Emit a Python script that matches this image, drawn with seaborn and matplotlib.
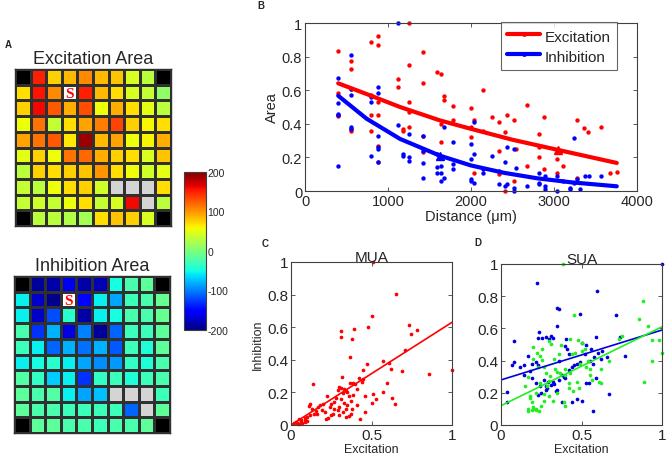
import numpy as np
import matplotlib
matplotlib.use("Agg")
import matplotlib.pyplot as plt
from matplotlib.colors import ListedColormap, Normalize
from matplotlib.cm import ScalarMappable
from matplotlib.lines import Line2D
from matplotlib.ticker import FuncFormatter
import seaborn as sns

nan = np.nan

# ---- panel A: response maps (10x10 electrode grid) ----
exc_map = [
    [nan, 150, 75, 85, 105, 85, 80, 45, 30, nan],
    [70, 155, 105, nan, 150, 85, 70, 45, 35, 10],
    [75, 160, 125, 90, 130, 55, 90, 70, 50, 30],
    [55, 115, 35, 70, 95, 110, 135, 75, 60, 70],
    [95, 115, 125, 65, 190, 85, 95, 55, 60, 90],
    [50, 75, 55, 115, 120, 90, 75, 70, 45, 80],
    [30, 75, 70, 75, 80, 100, 70, 55, 40, 50],
    [35, 30, 55, 70, 75, 40, nan, nan, nan, 70],
    [35, 40, 35, 55, 70, 35, 45, 160, nan, 30],
    [nan, 30, 30, 25, 20, 70, 80, 75, 45, nan],
]
inh_map = [
    [nan, -190, -185, -160, -185, -180, -50, -25, -15, nan],
    [-55, -175, -195, nan, -150, -55, -85, -30, -25, -10],
    [-55, -175, -120, -40, -185, -55, -50, -25, -25, -10],
    [-25, -130, -80, -165, -100, -190, -110, -30, -30, -15],
    [-30, -55, -110, -80, -105, -80, -115, -30, -45, -15],
    [-55, -50, -40, -55, -85, -95, -90, -35, -45, -25],
    [-20, -35, -70, -55, -130, -35, -30, -45, -30, -25],
    [-15, -25, -20, -55, -85, -75, nan, nan, nan, -30],
    [-15, -25, -25, -30, -30, -30, -30, -110, nan, -15],
    [nan, -15, -15, -25, -25, -30, -25, -25, -15, nan],
]
corner_cells = [(0, 0), (0, 9), (9, 0), (9, 9)]
dead_cells = [(7, 6), (7, 7), (7, 8), (8, 8)]
stim_cell = (1, 3)
cbar_ticks = [-200, -100, 0, 100, 200]

# ---- panel B: area vs distance ----
exc_dist = [394, 394, 394, 394, 555, 555, 555, 555, 555, 796, 796, 796, 796,
            884, 884, 884, 884, 884, 884, 1118, 1118, 1186, 1186,
            1259, 1259, 1259, 1259, 1259, 1427, 1427, 1427, 1427, 1596,
            1640, 1640, 1640, 1678, 1678, 1781, 1781, 1998, 1998, 1998,
            2042, 2042, 2143, 2143, 2251, 2332, 2332, 2332, 2412, 2412, 2432,
            2520, 2520, 2545, 2673, 2673, 2814, 2814, 2814, 2874, 2874,
            3035, 3035, 3108, 3276, 3276, 3365, 3409, 3566, 3678, 3759]
exc_area = [0.835, 0.585, 0.455, 0.445, 0.776, 0.727, 0.61, 0.37, 0.36, 0.885, 0.57, 0.45, 0.36,
            0.925, 0.87, 0.53, 0.45, 0.27, 0.17, 0.667, 0.62, 0.37, 0.36,
            1.0, 0.75, 0.53, 0.47, 0.38, 0.826, 0.64, 0.33, 0.23, 0.707,
            0.697, 0.40, 0.29, 0.565, 0.54, 0.505, 0.42, 0.493, 0.38, 0.32,
            0.42, 0.11, 0.60, 0.36, 0.44, 0.41, 0.24, 0.10, 0.35, 0.0, 0.45,
            0.425, 0.06, 0.25, 0.51, 0.15, 0.34, 0.26, 0.20, 0.44, 0.13,
            0.19, 0.11, 0.15, 0.425, 0.08, 0.375, 0.35, 0.38, 0.105, 0.115]
inh_dist = [394, 394, 394, 394, 394, 555, 555, 555, 555, 555, 796, 796, 796,
            884, 884, 884, 884, 884, 884, 1118, 1118, 1186, 1186, 1259, 1259, 1259,
            1427, 1427, 1427, 1427, 1596, 1596, 1596, 1640, 1640, 1640, 1678, 1678,
            1781, 1781, 1781, 1998, 1998, 1998, 1998, 2042, 2042, 2042, 2143, 2143,
            2251, 2332, 2332, 2412, 2412, 2432, 2432, 2520, 2520, 2520, 2545, 2673,
            2814, 2814, 2814, 2894, 2894, 2894, 3035, 3035, 3108, 3196, 3196,
            3236, 3236, 3276, 3308, 3377, 3417, 3566]
inh_area = [0.675, 0.525, 0.46, 0.45, 0.15, 0.81, 0.61, 0.57, 0.38, 0.37, 0.56, 0.53, 0.21,
            0.62, 0.585, 0.33, 0.26, 0.25, 0.17, 1.0, 0.39, 0.22, 0.21, 0.34, 0.20, 0.18,
            0.33, 0.24, 0.165, 0.075, 0.22, 0.14, 0.11, 0.15, 0.11, 0.06, 0.38, 0.08,
            0.29, 0.16, 0.13, 0.28, 0.19, 0.07, 0.06, 0.41, 0.22, 0.05, 0.13, 0.11,
            0.21, 0.12, 0.04, 0.17, 0.03, 0.26, 0.04, 0.25, 0.02, 0.0, 0.135, 0.03,
            0.11, 0.05, 0.04, 0.09, 0.03, 0.01, 0.09, 0.0, 0.06, 0.02, 0.01,
            0.315, 0.05, 0.07, 0.01, 0.09, 0.09, 0.09]
# fitted decay curves
exc_fit_dist = [400, 743, 1145, 1627, 2000, 2500, 3053, 3756]
exc_fit_area = [0.641, 0.577, 0.50, 0.42, 0.37, 0.305, 0.244, 0.167]
inh_fit_dist = [400, 743, 1145, 1627, 2000, 2400, 2792, 3200, 3756]
inh_fit_area = [0.567, 0.43, 0.31, 0.21, 0.152, 0.108, 0.076, 0.052, 0.028]
exc_half = (3053, 0.244)
inh_half = (1627, 0.21)

# ---- panel C: MUA ----
mua_exc = [0.51, 0.65, 0.50, 0.48, 0.31, 0.39, 0.31, 0.38, 0.735, 0.745,
           0.785, 0.71, 0.365, 0.57, 0.475, 0.61, 0.62, 0.69, 1.0, 0.855,
           0.445, 0.42, 0.315, 0.595, 0.365, 0.385, 0.135, 0.30, 0.31, 0.33,
           0.34, 0.29, 0.32, 0.35, 0.40, 0.41, 0.385, 0.36, 0.445, 0.44,
           0.51, 0.57, 0.625, 0.645, 0.505, 0.46, 0.46, 0.375, 0.43, 0.35,
           0.34, 0.30, 0.29, 0.27, 0.26, 0.23, 0.22, 0.25, 0.225, 0.17,
           0.18, 0.20, 0.19, 0.21, 0.16, 0.12, 0.11, 0.13, 0.12, 0.10,
           0.09, 0.085, 0.09, 0.07, 0.06, 0.05, 0.04, 0.03, 0.02, 0.065,
           0.05, 0.10, 0.31, 0.33, 0.28, 0.27, 0.32, 0.34, 0.36, 0.24,
           0.155, 0.14, 0.37, 0.38, 0.41, 0.30, 0.25, 0.53]
mua_inh = [1.0, 0.805, 0.67, 0.60, 0.575, 0.59, 0.54, 0.53, 0.615, 0.56,
           0.58, 0.46, 0.415, 0.395, 0.375, 0.38, 0.345, 0.33, 0.335, 0.313,
           0.335, 0.29, 0.295, 0.255, 0.255, 0.26, 0.25, 0.235, 0.225, 0.22,
           0.21, 0.215, 0.195, 0.205, 0.25, 0.22, 0.185, 0.175, 0.28, 0.265,
           0.19, 0.20, 0.165, 0.13, 0.135, 0.18, 0.08, 0.07, 0.035, 0.12,
           0.10, 0.11, 0.09, 0.10, 0.07, 0.04, 0.035, 0.13, 0.175, 0.11,
           0.12, 0.13, 0.09, 0.08, 0.07, 0.13, 0.115, 0.10, 0.06, 0.05,
           0.045, 0.03, 0.02, 0.01, 0.02, 0.005, 0.01, 0.02, 0.01, 0.03,
           0.035, 0.025, 0.16, 0.135, 0.165, 0.14, 0.08, 0.05, 0.055, 0.11,
           0.085, 0.07, 0.15, 0.10, 0.12, 0.06, 0.06, 0.16]
line_x = [0.0, 1.0]
mua_line = [0.0, 0.63]

# ---- panel D: SUA (two cell groups) ----
sua_exc_b = [1.0, 0.225, 0.595, 0.345, 0.36, 0.345, 0.49, 0.715, 0.235, 0.228,
             0.255, 0.28, 0.30, 0.31, 0.405, 0.59, 0.74, 0.77, 0.08, 0.08,
             0.07, 0.12, 0.145, 0.17, 0.19, 0.23, 0.215, 0.18, 0.14, 0.19,
             0.215, 0.24, 0.25, 0.23, 0.28, 0.285, 0.28, 0.325, 0.33, 0.34,
             0.35, 0.38, 0.39, 0.40, 0.42, 0.44, 0.455, 0.47, 0.49, 0.40,
             0.41, 0.42, 0.52, 0.55, 0.57, 0.58, 0.56, 0.60, 0.62, 0.53,
             0.545, 0.59, 0.47, 0.50, 0.38, 0.44, 0.57, 0.67, 0.66, 0.63,
             0.035, 0.035, 0.27, 0.29, 0.31, 0.36, 0.36, 0.50, 0.53, 0.32]
sua_inh_b = [1.0, 0.885, 0.83, 0.727, 0.72, 0.613, 0.69, 0.683, 0.576, 0.54,
             0.54, 0.545, 0.535, 0.55, 0.535, 0.545, 0.545, 0.43, 0.52, 0.39,
             0.375, 0.36, 0.37, 0.43, 0.38, 0.375, 0.39, 0.335, 0.31, 0.29,
             0.26, 0.24, 0.20, 0.185, 0.24, 0.23, 0.215, 0.27, 0.255, 0.21,
             0.22, 0.31, 0.30, 0.29, 0.34, 0.36, 0.37, 0.38, 0.39, 0.49,
             0.47, 0.44, 0.44, 0.40, 0.38, 0.42, 0.475, 0.45, 0.41, 0.26,
             0.26, 0.29, 0.16, 0.15, 0.145, 0.14, 0.085, 0.19, 0.42, 0.46,
             0.14, 0.205, 0.28, 0.265, 0.25, 0.28, 0.40, 0.51, 0.50, 0.54]
sua_exc_g = [0.385, 0.885, 0.86, 0.915, 0.935, 0.98, 1.0, 0.935, 0.89, 0.73,
             0.455, 0.48, 0.5, 0.43, 0.37, 0.30, 0.31, 0.255, 0.20, 0.225,
             0.24, 0.255, 0.20, 0.17, 0.23, 0.15, 0.18, 0.18, 0.19, 0.20,
             0.165, 0.17, 0.19, 0.20, 0.215, 0.22, 0.235, 0.285, 0.30, 0.305,
             0.335, 0.345, 0.365, 0.395, 0.42, 0.425, 0.485, 0.47, 0.55, 0.565,
             0.61, 0.62, 0.53, 0.54, 0.49, 0.55, 0.30, 0.35, 0.265, 0.22,
             0.39, 0.40, 0.45, 0.32, 0.27, 0.25, 0.28, 0.33, 0.36, 0.44,
             0.46, 0.50, 0.52, 0.27, 0.40, 0.43, 0.62, 0.67, 0.75, 0.24]
sua_inh_g = [1.0, 0.77, 0.66, 0.615, 0.525, 0.525, 0.445, 0.40, 0.265, 0.535,
             0.685, 0.53, 0.51, 0.535, 0.50, 0.52, 0.505, 0.47, 0.485, 0.45,
             0.43, 0.405, 0.41, 0.30, 0.36, 0.245, 0.18, 0.165, 0.14, 0.10,
             0.10, 0.09, 0.095, 0.11, 0.10, 0.095, 0.09, 0.245, 0.275, 0.305,
             0.345, 0.33, 0.32, 0.31, 0.26, 0.23, 0.23, 0.27, 0.31, 0.28,
             0.27, 0.26, 0.36, 0.40, 0.38, 0.35, 0.18, 0.20, 0.19, 0.20,
             0.14, 0.12, 0.21, 0.15, 0.15, 0.12, 0.32, 0.41, 0.44, 0.44,
             0.45, 0.46, 0.47, 0.36, 0.35, 0.32, 0.35, 0.40, 0.55, 0.26]
sua_line_b = [0.28, 0.59]
sua_line_g = [0.12, 0.61]

sns.set_style("white")
plt.rcParams["font.family"] = ["Liberation Sans", "DejaVu Sans"]

EDGE = "#404040"


def matlab_axes(ax, fs):
    for s in ax.spines.values():
        s.set_visible(True)
        s.set_color(EDGE)
        s.set_linewidth(0.8)
    ax.tick_params(direction="in", top=True, right=True, length=3, width=0.6,
                   labelsize=fs, color=EDGE, pad=2, bottom=True, left=True)


def draw_map(ax, values, title):
    grid = np.array(values, dtype=float)
    sns.heatmap(grid, ax=ax, cmap="jet", vmin=-200, vmax=200, cbar=False,
                mask=np.isnan(grid), linewidths=0.8, linecolor="#303030",
                xticklabels=False, yticklabels=False)
    special = np.full(grid.shape, np.nan)
    for r, c in corner_cells:
        special[r, c] = 0
    for r, c in dead_cells:
        special[r, c] = 1
    special[stim_cell] = 2
    sns.heatmap(special, ax=ax, cmap=ListedColormap(["black", "#d4d4d4", "white"]),
                vmin=-0.5, vmax=2.5, cbar=False, mask=np.isnan(special),
                linewidths=0.8, linecolor="#303030", xticklabels=False, yticklabels=False)
    ax.text(stim_cell[1] + 0.5, stim_cell[0] + 0.55, "S", color="red", fontweight="bold",
            family="Liberation Serif", fontsize=11, ha="center", va="center")
    for s in ax.spines.values():
        s.set_visible(True)
        s.set_color("#303030")
        s.set_linewidth(1.0)
    ax.set_title(title, fontsize=13, pad=4)


fig = plt.figure(figsize=(6.66, 4.60), dpi=100)

# A
ax_e = fig.add_axes([15 / 666, 1 - 227 / 460, 156 / 666, 157 / 460])
draw_map(ax_e, exc_map, "Excitation Area")
ax_i = fig.add_axes([14 / 666, 1 - 434 / 460, 156 / 666, 157 / 460])
draw_map(ax_i, inh_map, "Inhibition Area")

cax = fig.add_axes([184 / 666, 1 - 331 / 460, 22 / 666, 158 / 460])
sm = ScalarMappable(norm=Normalize(-200, 200), cmap="jet")
cb = fig.colorbar(sm, cax=cax, ticks=cbar_ticks)
cb.ax.yaxis.set_major_formatter(FuncFormatter(lambda v, p: "%d" % v))
cb.ax.tick_params(direction="in", length=2, width=0.6, labelsize=7.5, pad=1, left=True, right=True)
cb.outline.set_edgecolor(EDGE)
cb.outline.set_linewidth(0.8)

# B
ax_b = fig.add_axes([305 / 666, 1 - 192 / 460, 332 / 666, 168 / 460])
sns.scatterplot(x=exc_dist, y=exc_area, ax=ax_b, color="#ff0000", s=10, linewidth=0, clip_on=False)
sns.scatterplot(x=inh_dist, y=inh_area, ax=ax_b, color="#0000ff", s=10, linewidth=0, clip_on=False)
sns.lineplot(x=exc_fit_dist, y=exc_fit_area, ax=ax_b, color="#ff0000", lw=3)
sns.lineplot(x=inh_fit_dist, y=inh_fit_area, ax=ax_b, color="#0000ff", lw=3)
ax_b.plot(*exc_half, marker="^", color="#ff0000", markersize=6)
ax_b.plot(*inh_half, marker="^", color="#0000ff", markersize=6)
ax_b.set_xlim(0, 4000)
ax_b.set_ylim(0, 1)
ax_b.set_xticks([0, 1000, 2000, 3000, 4000])
ax_b.set_yticks([0, 0.2, 0.4, 0.6, 0.8, 1.0])
ax_b.yaxis.set_major_formatter(FuncFormatter(lambda v, p: "%g" % v))
matlab_axes(ax_b, 10.5)
ax_b.set_xlabel("Distance (\u03bcm)", fontsize=10.5, labelpad=1)
ax_b.set_ylabel("Area", fontsize=10.5, labelpad=2)
handles = [Line2D([0], [0], color="#ff0000", lw=3, marker=".", markersize=5),
           Line2D([0], [0], color="#0000ff", lw=3, marker=".", markersize=5)]
leg = ax_b.legend(handles, ["Excitation", "Inhibition"], loc="upper right",
                  bbox_to_anchor=(0.94, 1.008), borderaxespad=0, fontsize=11,
                  frameon=True, fancybox=False, handlelength=2.2, handleheight=1.3,
                  borderpad=0.4, labelspacing=0.2, handletextpad=0.3)
leg.get_frame().set_edgecolor(EDGE)
leg.get_frame().set_linewidth(0.8)

# C
ax_c = fig.add_axes([291 / 666, 1 - 426 / 460, 161 / 666, 163 / 460])
sns.scatterplot(x=mua_exc, y=mua_inh, ax=ax_c, color="#ff0000", s=7, linewidth=0, clip_on=False)
sns.lineplot(x=line_x, y=mua_line, ax=ax_c, color="#ff0000", lw=1.2)
ax_c.set_xlim(0, 1)
ax_c.set_ylim(0, 1)
ax_c.set_xticks([0, 0.5, 1])
ax_c.set_yticks([0, 0.2, 0.4, 0.6, 0.8, 1.0])
ax_c.xaxis.set_major_formatter(FuncFormatter(lambda v, p: "%g" % v))
ax_c.yaxis.set_major_formatter(FuncFormatter(lambda v, p: "%g" % v))
matlab_axes(ax_c, 11)
ax_c.set_xlabel("Excitation", fontsize=9, labelpad=1)
ax_c.set_ylabel("Inhibition", fontsize=9, labelpad=2)
ax_c.set_title("MUA", fontsize=11, pad=1)

# D
ax_d = fig.add_axes([501 / 666, 1 - 426 / 460, 161 / 666, 161 / 460])
sns.scatterplot(x=sua_exc_b, y=sua_inh_b, ax=ax_d, color="#0000dd", s=7, linewidth=0, clip_on=False)
sns.scatterplot(x=sua_exc_g, y=sua_inh_g, ax=ax_d, color="#22ee22", s=7, linewidth=0, clip_on=False)
sns.lineplot(x=line_x, y=sua_line_b, ax=ax_d, color="#0000dd", lw=1.2)
sns.lineplot(x=line_x, y=sua_line_g, ax=ax_d, color="#22ee22", lw=1.2)
ax_d.set_xlim(0, 1)
ax_d.set_ylim(0, 1)
ax_d.set_xticks([0, 0.5, 1])
ax_d.set_yticks([0, 0.2, 0.4, 0.6, 0.8, 1.0])
ax_d.xaxis.set_major_formatter(FuncFormatter(lambda v, p: "%g" % v))
ax_d.yaxis.set_major_formatter(FuncFormatter(lambda v, p: "%g" % v))
matlab_axes(ax_d, 11)
ax_d.set_xlabel("Excitation", fontsize=9, labelpad=1)
ax_d.set_title("SUA", fontsize=11, pad=1)

# panel letters
fig.text(5 / 666, 1 - 45 / 460, "A", fontsize=7, fontweight="bold", va="center")
fig.text(257 / 666, 1 - 1 / 460, "B", fontsize=7, fontweight="bold", va="top")
fig.text(262 / 666, 1 - 244 / 460, "C", fontsize=7, fontweight="bold", va="center")
fig.text(474 / 666, 1 - 243 / 460, "D", fontsize=7, fontweight="bold", va="center")

fig.savefig("out.png", dpi=100)
plt.close(fig)
